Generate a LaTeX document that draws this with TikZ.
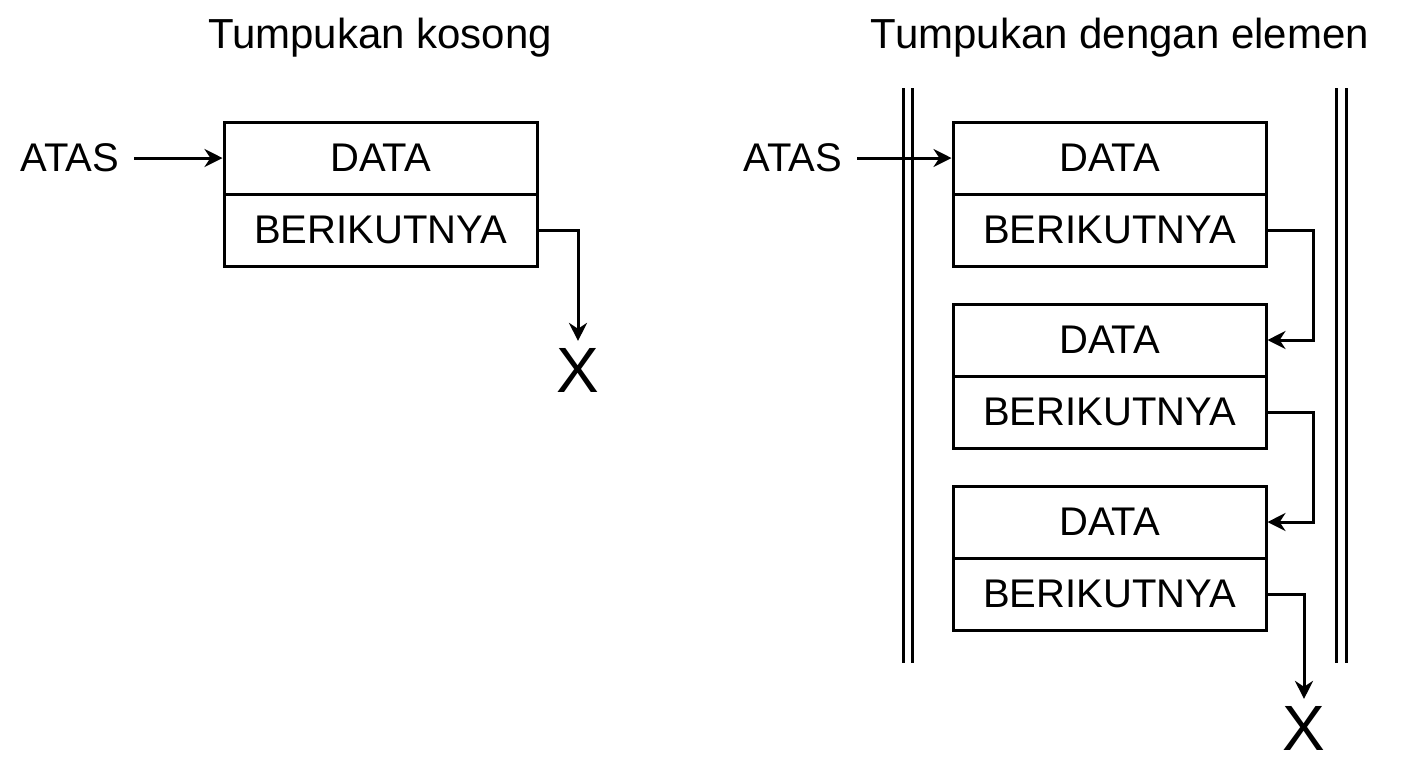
\documentclass[tikz,border=0pt]{standalone}
\usepackage{fontspec}
\setmainfont{Liberation Sans}
\usetikzlibrary{arrows.meta}
\begin{document}
\begin{tikzpicture}[x=0.5pt,y=-0.5pt,
  box/.style={draw,line width=1.5pt,minimum width=156.5pt,minimum height=36pt,inner sep=0pt,font=\fontsize{20}{20}\selectfont},
  lbl/.style={font=\fontsize{20}{20}\selectfont},
  ttl/.style={font=\fontsize{21}{21}\selectfont},
  xl/.style={font=\fontsize{32}{32}\selectfont},
  arr/.style={line width=1.5pt,-{Stealth[length=9pt,width=9pt]}},
  wall/.style={line width=1.5pt}]
\useasboundingbox (0,0) rectangle (1408,768);
\node[ttl] (t1) at (380,38) {Tumpukan kosong};
\node[ttl] (t2) at (1120,38) {Tumpukan dengan elemen};
% left
\node[box] (d0) at (380.5,158) {DATA};
\node[box] (n0) at (380.5,230) {BERIKUTNYA};
\node[lbl] (a0) at (70,158) {ATAS};
\node[xl] (x0) at (578,370) {X};
\draw[arr] (a0.east)++(8,0) coordinate (s0) -- (d0.west);
\draw[arr] (n0.east) -| (x0.north);
% right walls
\coordinate (w1a) at (903,88); \coordinate (w1b) at (903,663);
\coordinate (w2a) at (912,88); \coordinate (w2b) at (912,663);
\coordinate (w3a) at (1336,88); \coordinate (w3b) at (1336,663);
\coordinate (w4a) at (1346,88); \coordinate (w4b) at (1346,663);
\draw[wall] (w1a)--(w1b) (w2a)--(w2b) (w3a)--(w3b) (w4a)--(w4b);
\node[box] (d1) at (1109.5,158) {DATA};
\node[box] (n1) at (1109.5,230) {BERIKUTNYA};
\node[box] (d2) at (1109.5,340) {DATA};
\node[box] (n2) at (1109.5,412) {BERIKUTNYA};
\node[box] (d3) at (1109.5,522) {DATA};
\node[box] (n3) at (1109.5,594) {BERIKUTNYA};
\node[lbl] (a1) at (793,158) {ATAS};
\node[xl] (x1) at (1304,728) {X};
\draw[arr] (a1.east)++(8,0) -- (d1.west);
\draw[arr] (n1.east) -- ++(46,0) |- (d2.east);
\draw[arr] (n2.east) -- ++(46,0) |- (d3.east);
\draw[arr] (n3.east) -| (x1.north);
\end{tikzpicture}
\end{document}
